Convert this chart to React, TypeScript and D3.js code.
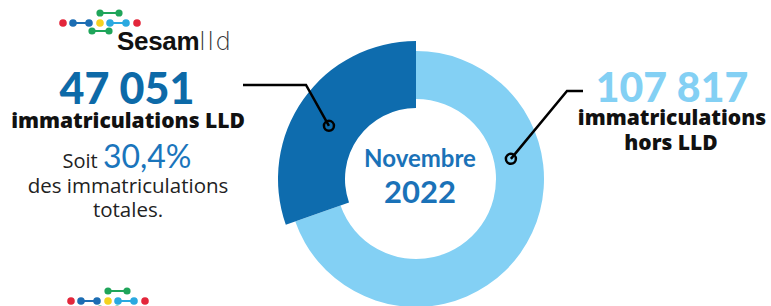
import React from "react";
import * as d3 from "d3";

const categories = ["immatriculations LLD", "immatriculations hors LLD"];
const values = [47051, 107817];
const periodLabel = ["Novembre", "2022"];
const sublabelLines = ["des immatriculations", "totales."];

const W = 771;
const H = 306;
const cx = 416;
const cy = 179;

const frLocale = d3.formatLocale({ decimal: ",", thousands: " ", grouping: [3], currency: ["", " €"] });
const fmtInt = frLocale.format(",d");
const fmtPct = frLocale.format(".1%");

const DARK = "#0e6cae";
const LIGHT = "#83d0f4";
const FONT = "Lato, 'Open Sans', sans-serif";
const LFONT = "'Open Sans', Lato, sans-serif";

function Logo({ dx, dy }: { dx: number; dy: number }) {
  const row = [
    { x: 63, c: "#e3263b" },
    { x: 73, c: "#1c6db3" },
    { x: 89, c: "#1c6db3" },
    { x: 100, c: "#f4d21f" },
    { x: 110, c: "#2aa9e0" },
    { x: 126, c: "#2aa9e0" },
    { x: 137, c: "#e3263b" },
  ];
  const greens = [
    [100, 13, 119, 13],
    [92, 31, 109, 31],
  ];
  return (
    <g transform={`translate(${dx},${dy})`}>
      <line x1={73} y1={23} x2={89} y2={23} stroke="#1c6db3" strokeWidth={2} />
      <line x1={110} y1={23} x2={126} y2={23} stroke="#2aa9e0" strokeWidth={2} />
      {greens.map((g, i) => (
        <g key={i}>
          <line x1={g[0]} y1={g[1]} x2={g[2]} y2={g[3]} stroke="#1fa55a" strokeWidth={2} />
          <circle cx={g[0]} cy={g[1]} r={3.6} fill="#1fa55a" />
          <circle cx={g[2]} cy={g[3]} r={3.6} fill="#1fa55a" />
        </g>
      ))}
      {row.map((d, i) => (
        <circle key={i} cx={d.x} cy={23} r={3.8} fill={d.c} />
      ))}
    </g>
  );
}

export default function App() {
  const total = d3.sum(values);
  const share = values[0] / total;
  const pie = d3
    .pie<number>()
    .sort(null)
    .startAngle(0)
    .endAngle(2 * Math.PI);
  const arcsData = pie([values[1], values[0]]);
  const lightArc = d3.arc<d3.PieArcDatum<number>>().innerRadius(80).outerRadius(128);
  const darkArc = d3.arc<d3.PieArcDatum<number>>().innerRadius(71).outerRadius(138);

  const leftAngle = -58.6 * (Math.PI / 180);
  const leftR = 102;
  const lp = [cx + leftR * Math.sin(leftAngle), cy - leftR * Math.cos(leftAngle)];
  const rightAngle = 78 * (Math.PI / 180);
  const rightR = 97;
  const rp = [cx + rightR * Math.sin(rightAngle), cy - rightR * Math.cos(rightAngle)];

  const pctText = fmtPct(share).replace(/\s?%/, "%");

  return (
    <svg
      width={W}
      height={H}
      viewBox={`0 0 ${W} ${H}`}
      style={{ position: "absolute", left: 0, top: 0, background: "#fff" }}
    >
      <Logo dx={0} dy={0} />
      <text x={117} y={50} fontFamily="'Liberation Sans', Arial, sans-serif" fontWeight={700} fontSize={26} fill="#111" letterSpacing={-0.3}>
        Sesam
      </text>
      <text x={199} y={50} fontFamily="'DejaVu Sans', sans-serif" fontWeight={200} fontSize={25} fill="#333" letterSpacing={1.2}>
        lld
      </text>
      <Logo dx={8} dy={278} />

      <g transform={`translate(${cx},${cy})`}>
        <path d={lightArc(arcsData[0]) || ""} fill={LIGHT} />
        <path d={darkArc(arcsData[1]) || ""} fill={DARK} />
      </g>

      <text x={420} y={167} textAnchor="middle" fontFamily={FONT} fontWeight={700} fontSize={24} fill="#1a72b8">
        {periodLabel[0]}
      </text>
      <text x={420} y={203} textAnchor="middle" fontFamily={FONT} fontWeight={700} fontSize={31} fill="#1a72b8">
        {periodLabel[1]}
      </text>

      <polyline points={`243,85 306,85 ${lp[0]},${lp[1]}`} fill="none" stroke="#000" strokeWidth={2.5} />
      <circle cx={lp[0]} cy={lp[1]} r={5} fill="none" stroke="#000" strokeWidth={2.5} />

      <polyline points={`${rp[0]},${rp[1]} 567,91 583,91`} fill="none" stroke="#000" strokeWidth={2.5} />
      <circle cx={rp[0]} cy={rp[1]} r={5} fill="none" stroke="#000" strokeWidth={2.5} />

      <text x={127} y={104} textAnchor="middle" fontFamily={FONT} fontWeight={900} fontSize={43} fill="#0d6aa8">
        {fmtInt(values[0])}
      </text>
      <text x={128} y={128} textAnchor="middle" fontFamily={LFONT} fontWeight={800} fontSize={21} fill="#111">
        {categories[0]}
      </text>
      <text x={127} y={168} textAnchor="middle" fontFamily={LFONT} fill="#222">
        <tspan fontSize={20}>Soit </tspan>
        <tspan fontFamily={FONT} fontSize={32} fill="#1a75bc">{pctText}</tspan>
      </text>
      {sublabelLines.map((s, i) => (
        <text key={i} x={128} y={193 + i * 24} textAnchor="middle" fontFamily={LFONT} fontSize={20.5} fill="#222">
          {s}
        </text>
      ))}

      <text x={672} y={102} textAnchor="middle" fontFamily={FONT} fontWeight={900} fontSize={41} fill={LIGHT}>
        {fmtInt(values[1])}
      </text>
      <text x={672} y={125} textAnchor="middle" fontFamily={LFONT} fontWeight={800} fontSize={21} fill="#111">
        {categories[1].split(" ")[0]}
      </text>
      <text x={671} y={150} textAnchor="middle" fontFamily={LFONT} fontWeight={800} fontSize={21} fill="#111">
        {categories[1].split(" ").slice(1).join(" ")}
      </text>
    </svg>
  );
}
